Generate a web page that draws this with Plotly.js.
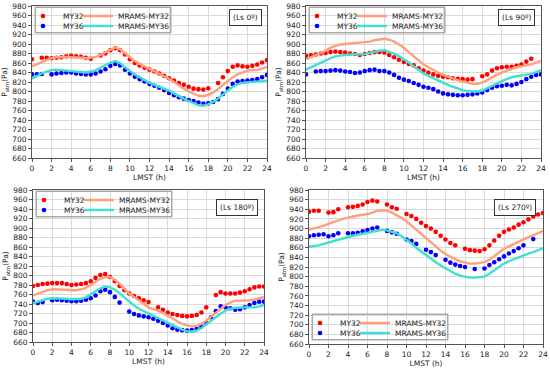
<!DOCTYPE html>
<html>
<head>
<meta charset="utf-8">
<script src="https://cdn.plot.ly/plotly-3.0.1.min.js"></script>
<style>html,body{margin:0;padding:0;background:#fff;}#chart{width:550px;height:368px;}</style>
</head>
<body>
<div id="chart"></div>
<script>
// ---- data ----
const HOURS = [0,0.5,1,1.5,2,2.5,3,3.5,4,4.5,5,5.5,6,6.5,7,7.5,8,8.5,9,9.5,10,10.5,11,11.5,12,12.5,13,13.5,14,14.5,15,15.5,16,16.5,17,17.5,18,18.5,19,19.5,20,20.5,21,21.5,22,22.5,23,23.5,24];
const SERIES_NAMES = ["MY32","MY36","MRAMS-MY32","MRAMS-MY36"];
const PANEL_LABELS = ["(Ls 0º)","(Ls 90º)","(Ls 180º)","(Ls 270º)"];
const X_TICKS = [0,2,4,6,8,10,12,14,16,18,20,22,24];
const Y_TICKS = [660,680,700,720,740,760,780,800,820,840,860,880,900,920,940,960,980];

// Ls 0
const ls0_MY32 = [868,null,871,871,870,871,872,874,875,874,873,871,869,null,876,880,887,891,887,878,868,860,855,850,846,842,838,833,828,823,818,814,810,806,805,804,807,null,818,830,843,852,855,853,852,854,857,861,866];
const ls0_MY36 = [836,836,837,null,836,838,839,840,840,838,837,836,836,838,842,847,854,858,855,846,838,831,826,821,816,812,808,803,797,792,788,785,782,780,777,774,775,778,784,795,806,816,821,822,823,824,826,830,835];
const ls0_MRAMS32 = [853,858,862,866,870,872,873,873,872,872,871,870,871,873,877,882,888,893,889,880,871,864,858,853,848,843,838,832,827,820,812,806,800,795,791,790,793,798,805,814,823,830,836,840,844,845,845,848,852];
const ls0_MRAMS36 = [827,833,838,842,845,846,845,843,842,841,840,840,842,845,850,855,861,864,860,851,843,836,830,824,818,814,810,806,802,796,790,785,780,775,771,770,773,778,785,794,803,810,815,818,819,820,820,821,823];

// Ls 90
const ls90_MY32 = [875,876,878,880,881,883,884,883,882,880,879,877,879,881,883,883,882,877,872,867,862,858,855,849,844,840,836,833,831,830,828,827,826,825,826,null,832,836,844,849,851,852,852,854,857,863,869,null,null];
const ls90_MY36 = [836,null,842,843,843,844,845,844,842,841,839,840,843,845,846,843,843,840,835,829,825,822,818,814,810,808,805,800,796,794,793,792,792,793,794,796,798,803,808,811,812,814,813,816,820,826,831,835,836];
const ls90_MRAMS32 = [868,872,876,881,886,892,896,899,900,901,901,902,903,905,908,910,911,909,905,899,892,883,874,865,857,851,845,840,835,831,828,824,821,818,816,816,819,824,830,835,840,844,848,851,853,855,857,861,865];
const ls90_MRAMS36 = [846,851,856,861,866,870,874,876,877,878,878,878,879,881,884,886,887,884,880,874,868,861,853,845,838,833,828,823,819,814,810,806,803,801,800,800,802,807,813,818,822,826,830,832,834,835,837,841,845];

// Ls 180
const ls180_MY32 = [778,780,782,783,784,784,784,782,780,781,782,784,788,795,801,803,797,788,778,769,762,757,752,748,744,null,733,728,722,719,717,715,714,715,717,722,733,null,759,765,762,762,762,764,767,771,775,777,777];
const ls180_MY36 = [745,742,744,null,748,749,748,747,746,746,747,749,752,758,767,770,765,755,743,null,724,719,716,714,712,709,705,700,695,689,686,685,684,685,688,693,700,712,725,735,733,731,728,729,733,738,742,745,745];
const ls180_MRAMS32 = [758,762,766,769,771,771,771,770,769,769,771,774,780,787,793,796,797,791,783,772,762,755,748,740,733,729,726,721,715,709,703,698,695,693,694,698,705,713,722,731,738,743,747,747,747,748,749,752,755];
const ls180_MRAMS36 = [742,745,748,751,752,752,752,751,750,750,751,754,760,767,773,777,775,770,763,754,745,737,730,725,720,715,710,705,700,695,690,686,683,682,684,689,697,705,713,720,726,730,732,733,733,733,733,735,738];

// Ls 270
const ls270_MY32 = [935,937,937,null,933,934,940,null,944,945,947,950,955,958,956,null,950,944,941,null,930,926,920,912,905,900,893,885,877,870,865,null,858,855,854,853,857,865,875,885,893,898,902,908,913,919,925,929,932];
const ls270_MY36 = [884,886,887,888,884,886,890,null,890,890,891,894,897,900,902,null,895,892,889,null,877,874,868,null,856,851,845,null,835,829,825,822,820,null,816,null,817,824,830,836,842,848,853,859,865,null,878,null,null];
const ls270_MRAMS32 = [898,900,903,906,910,913,917,920,923,925,927,928,930,933,937,938,937,933,928,922,915,906,897,888,880,871,862,854,847,841,836,832,829,827,827,828,830,835,842,850,858,863,868,873,877,882,886,890,895];
const ls270_MRAMS36 = [862,863,865,868,871,874,877,880,883,885,887,889,891,893,896,897,896,893,890,884,877,869,860,852,845,837,830,823,817,811,806,802,800,798,798,799,800,806,813,820,827,832,836,841,845,848,851,855,859];

const PANELS = [
  [ls0_MY32, ls0_MY36, ls0_MRAMS32, ls0_MRAMS36],
  [ls90_MY32, ls90_MY36, ls90_MRAMS32, ls90_MRAMS36],
  [ls180_MY32, ls180_MY36, ls180_MRAMS32, ls180_MRAMS36],
  [ls270_MY32, ls270_MY36, ls270_MRAMS32, ls270_MRAMS36]
];

// ---- style ----
const W = 550, H = 368;
const COLORS = ["#ff0000","#0000ff","#ffa07a","#40e0d0"];
const BOX = [[32,267,6,158],[306,541,6,158],[33,264,190,342],[309,543,190,344]];
const LEG_TOP = [7,7,191,314];
const LEG_W = 136, LEG_H = 26;
const LABEL_POS = [[245,17.5],[516,17.5],[237,208],[515,208]];
const FS = 7.5;
const FONT = "DejaVu Sans, sans-serif";

const px = v => v / W;
const py = v => 1 - v / H;

const traces = [];
const layout = {
  width: W, height: H,
  margin: {l:0, r:0, t:0, b:0},
  paper_bgcolor: "#fff", plot_bgcolor: "#fff",
  font: {family: FONT, size: FS, color: "#222"},
  showlegend: true,
  shapes: [], annotations: []
};

PANELS.forEach((series, p) => {
  const sfx = p === 0 ? "" : String(p + 1);
  const [l, r, t, b] = BOX[p];
  const axCommon = {
    showline: true, linecolor: "#555", linewidth: 1, mirror: true,
    ticks: "outside", ticklen: 3, tickcolor: "#555", tickwidth: 1,
    showgrid: true, gridcolor: "#dadada", gridwidth: 1, zeroline: false,
    tickfont: {family: FONT, size: FS, color: "#222"}, fixedrange: true
  };
  layout["xaxis" + sfx] = Object.assign({}, axCommon, {
    domain: [px(l), px(r)], anchor: "y" + sfx, range: [0, 24],
    tickmode: "array", tickvals: X_TICKS, ticktext: X_TICKS.map(String),
    title: {text: "LMST (h)", font: {family: FONT, size: FS, color: "#222"}, standoff: 0}
  });
  layout["yaxis" + sfx] = Object.assign({}, axCommon, {
    domain: [py(b), py(t)], anchor: "x" + sfx, range: [660, 980],
    tickmode: "array", tickvals: Y_TICKS, ticktext: Y_TICKS.map(String),
    title: {text: "P<sub>atm</sub>(Pa)", font: {family: FONT, size: FS, color: "#222"}, standoff: 3}
  });

  // legend frame: outline rectangle in paper coordinates
  const lt = LEG_TOP[p];
  layout.shapes.push({
    type: "rect", xref: "paper", yref: "paper", layer: "above",
    x0: px(l + 3), x1: px(l + 3 + LEG_W), y0: py(lt + LEG_H), y1: py(lt),
    line: {color: "#a9a9a9", width: 1}, fillcolor: "rgba(0,0,0,0)"
  });
  // same frame as a bordered annotation box (identical position)
  layout.annotations.push({
    xref: "paper", yref: "paper", x: px(l + 3), y: py(lt),
    xanchor: "left", yanchor: "top", text: "\u00a0", showarrow: false,
    width: LEG_W - 2, height: LEG_H - 2, borderpad: 0, borderwidth: 1,
    bordercolor: "#a9a9a9", bgcolor: "rgba(0,0,0,0)"
  });

  series.forEach((vals, s) => {
    const legId = p * 4 + s;
    const legName = legId === 0 ? "legend" : "legend" + (legId + 1);
    const row = s % 2, col = Math.floor(s / 2);
    const cx = l + (col === 0 ? 11 : 66);
    const cy = lt + 9 + row * 10;
    layout[legName] = {
      x: px(cx - 20), y: py(cy), xanchor: "left", yanchor: "middle",
      orientation: "v", bgcolor: "rgba(0,0,0,0)", borderwidth: 0,
      font: {family: FONT, size: FS, color: "#222"}, itemclick: false, itemdoubleclick: false
    };
    const isObs = s < 2;
    const tr = {
      type: "scatter",
      x: HOURS, y: vals,
      xaxis: "x" + sfx, yaxis: "y" + sfx,
      name: SERIES_NAMES[s],
      legend: legName,
      mode: isObs ? "markers" : "lines",
      connectgaps: false,
      hoverinfo: "x+y+name"
    };
    if (isObs) tr.marker = {color: COLORS[s], size: 4.6, line: {width: 0}};
    else tr.line = {color: COLORS[s], width: 2.4};
    traces.push(tr);
  });

  layout.annotations.push({
    xref: "paper", yref: "paper", x: px(LABEL_POS[p][0]), y: py(LABEL_POS[p][1]),
    xanchor: "center", yanchor: "middle", text: PANEL_LABELS[p], showarrow: false,
    font: {family: FONT, size: FS, color: "#222"},
    bordercolor: "#333", borderwidth: 1, borderpad: 3, bgcolor: "#fff"
  });
});

Plotly.newPlot("chart", traces, layout, {displayModeBar: false});
</script>
</body>
</html>
